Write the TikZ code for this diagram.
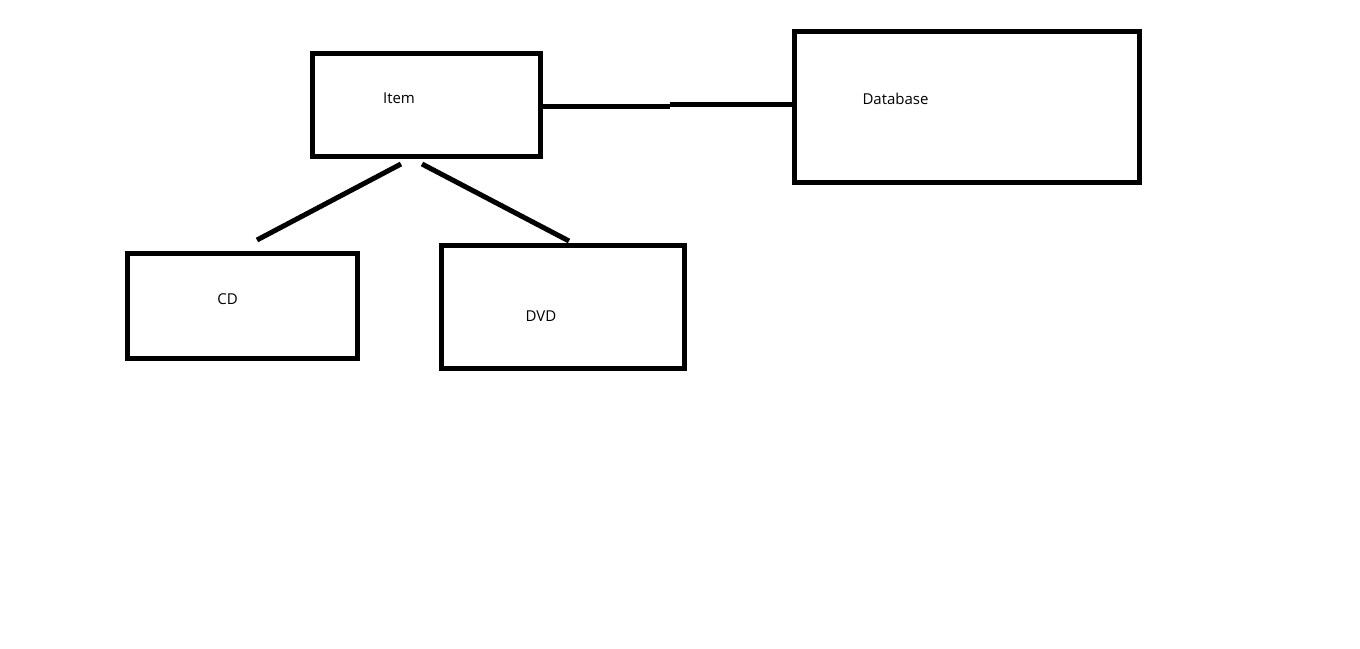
\documentclass[tikz,border=0pt]{standalone}
\usepackage{fontspec}
\setmainfont{Open Sans}
\begin{document}
\begin{tikzpicture}[x=1pt,y=-1pt,
  box/.style={draw=black,line width=5pt,inner sep=0pt,outer sep=0pt,fill=white},
  lbl/.style={inner sep=0pt,anchor=base,font=\fontsize{15}{18}\selectfont,text=black},
  conn/.style={draw=black,line width=5pt}]
\useasboundingbox[fill=white] (0,0) rectangle (1360,648);
% boxes
\node[box,minimum width=228pt,minimum height=103pt] (item) at (426.5,105) {};
\node[box,minimum width=345pt,minimum height=151pt] (db) at (966.75,106.75) {};
\node[box,minimum width=230pt,minimum height=105pt] (cd) at (242,305.5) {};
\node[box,minimum width=243pt,minimum height=123pt] (dvd) at (562.5,306.5) {};
% labels
\node[lbl] (itemt) at (399,103) {Item};
\node[lbl] (dbt) at (895.5,104) {Database};
\node[lbl] (cdt) at (227.5,304.5) {CD};
\node[lbl] (dvdt) at (541,321.5) {DVD};
% connector end points
\coordinate (kink1) at (670,106.5);
\coordinate (kink2) at (670,104.5);
\coordinate (ia) at ([xshift=2pt]item.east |- kink1);
\coordinate (dba) at (db.west |- kink2);
\coordinate (icd) at (401,164);
\coordinate (cdtop) at (257,240);
\coordinate (idvd) at (422,164);
\coordinate (dvdtop) at (569,241);
% connectors
\draw[conn] (ia) -- (kink1);
\draw[conn] (kink2) -- (dba);
\draw[conn] (icd) -- (cdtop);
\draw[conn] (idvd) -- (dvdtop);
\end{tikzpicture}
\end{document}
